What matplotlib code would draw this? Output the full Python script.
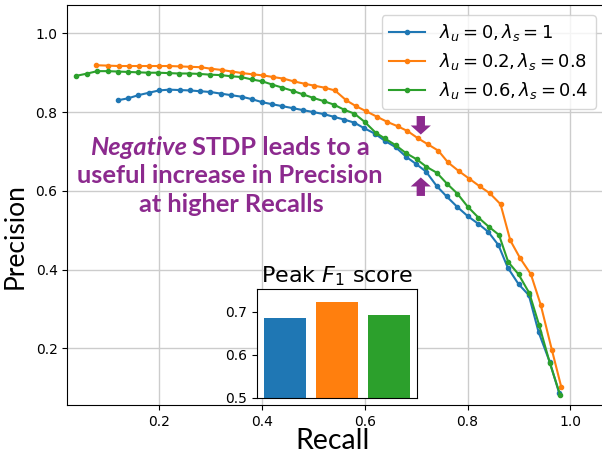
import matplotlib
matplotlib.use("Agg")
import matplotlib.pyplot as plt

# precision-recall curves
recall_a = [0.120, 0.140, 0.160, 0.180, 0.200, 0.220, 0.240, 0.260, 0.280, 0.300,
            0.320, 0.340, 0.361, 0.380, 0.401, 0.420, 0.440, 0.460, 0.480, 0.500,
            0.520, 0.540, 0.560, 0.580, 0.599, 0.620, 0.639, 0.660, 0.680, 0.700,
            0.719, 0.740, 0.759, 0.780, 0.800, 0.821, 0.840, 0.860, 0.878, 0.899,
            0.919, 0.938, 0.960, 0.978]
prec_a = [0.830, 0.835, 0.843, 0.849, 0.855, 0.857, 0.856, 0.855, 0.853, 0.851,
          0.847, 0.843, 0.839, 0.833, 0.825, 0.820, 0.815, 0.810, 0.805, 0.800,
          0.795, 0.788, 0.781, 0.773, 0.759, 0.745, 0.727, 0.711, 0.687, 0.668,
          0.649, 0.612, 0.586, 0.559, 0.536, 0.516, 0.496, 0.462, 0.405, 0.363,
          0.335, 0.241, 0.164, 0.086]

recall_b = [0.078, 0.101, 0.122, 0.141, 0.161, 0.181, 0.201, 0.220, 0.241, 0.261,
            0.281, 0.302, 0.322, 0.342, 0.362, 0.382, 0.403, 0.422, 0.442, 0.462,
            0.483, 0.502, 0.522, 0.542, 0.564, 0.583, 0.603, 0.624, 0.644, 0.664,
            0.683, 0.704, 0.723, 0.743, 0.762, 0.783, 0.803, 0.824, 0.843, 0.864,
            0.883, 0.902, 0.923, 0.942, 0.964, 0.982]
prec_b = [0.919, 0.918, 0.917, 0.917, 0.917, 0.917, 0.917, 0.917, 0.916, 0.915,
          0.914, 0.910, 0.907, 0.903, 0.899, 0.896, 0.893, 0.889, 0.885, 0.878,
          0.872, 0.867, 0.862, 0.855, 0.830, 0.815, 0.802, 0.788, 0.775, 0.764,
          0.752, 0.733, 0.718, 0.702, 0.672, 0.650, 0.631, 0.611, 0.594, 0.566,
          0.474, 0.429, 0.388, 0.311, 0.195, 0.102]

recall_c = [0.039, 0.061, 0.080, 0.100, 0.120, 0.139, 0.159, 0.179, 0.199, 0.219,
            0.239, 0.258, 0.278, 0.300, 0.320, 0.340, 0.360, 0.380, 0.401, 0.420,
            0.440, 0.460, 0.480, 0.500, 0.520, 0.540, 0.560, 0.580, 0.600, 0.621,
            0.639, 0.660, 0.680, 0.701, 0.720, 0.740, 0.760, 0.780, 0.800, 0.821,
            0.841, 0.861, 0.879, 0.899, 0.920, 0.939, 0.960, 0.980]
prec_c = [0.892, 0.898, 0.904, 0.904, 0.903, 0.902, 0.901, 0.900, 0.900, 0.899,
          0.898, 0.898, 0.897, 0.895, 0.894, 0.891, 0.889, 0.883, 0.878, 0.870,
          0.862, 0.854, 0.845, 0.836, 0.828, 0.819, 0.806, 0.796, 0.775, 0.748,
          0.733, 0.716, 0.696, 0.680, 0.661, 0.646, 0.618, 0.593, 0.560, 0.532,
          0.509, 0.488, 0.419, 0.388, 0.340, 0.259, 0.162, 0.081]

labels = [r"$\lambda_u = 0, \lambda_s = 1$",
          r"$\lambda_u = 0.2, \lambda_s = 0.8$",
          r"$\lambda_u = 0.6, \lambda_s = 0.4$"]
peak_f1 = [0.685, 0.722, 0.692]
colors = ["tab:blue", "tab:orange", "tab:green"]
purple = "#8c2a8e"

W, H = 602, 457
fig = plt.figure(figsize=(W / 100, H / 100), dpi=100)

# main axes (right edge runs just past the picture)
ax = fig.add_axes([67.3 / W, 1 - 405 / H, (630 - 67.3) / W, 400 / H])
ax.plot(recall_a, prec_a, marker=".", color=colors[0], label=labels[0])
ax.plot(recall_b, prec_b, marker=".", color=colors[1], label=labels[1])
ax.plot(recall_c, prec_c, marker=".", color=colors[2], label=labels[2])
ax.set_xlim(0.0218, (630 - 56.1) / 514.4)
ax.set_ylim(0.056, 1.072)
ax.set_xticks([0.2, 0.4, 0.6, 0.8, 1.0])
ax.set_yticks([0.2, 0.4, 0.6, 0.8, 1.0])
ax.spines["right"].set_visible(False)
ax.tick_params(labelsize=10)
ax.grid(True, color="#cccccc", linewidth=1)
ax.set_xlabel("Recall", family="Lato", fontsize=20.5)
ax.set_ylabel("Precision", family="Lato", fontsize=19)
ax.xaxis.set_label_coords((333 - 67.3) / (630 - 67.3), -0.057, transform=ax.transAxes)
ax.yaxis.set_label_coords(-0.07, (405 - 236) / 400, transform=ax.transAxes)
ax.xaxis.label.set_va("top")

ax.legend(loc="upper right", bbox_to_anchor=(596 / W, 1 - 15 / H),
          bbox_transform=fig.transFigure, borderaxespad=0, fontsize=13,
          labelspacing=0.45)

# annotation
px = lambda x, y: (x / W, 1 - y / H)
fs = 18.3
fig.text(*px(187, 155), "Negative", family="Lato", weight="bold", style="italic",
         fontsize=fs, color=purple, ha="right", va="baseline")
fig.text(*px(192, 155), "STDP leads to a", family="Lato", weight="bold",
         fontsize=fs, color=purple, ha="left", va="baseline")
fig.text(*px(230, 183), "useful increase in Precision", family="Lato", weight="bold",
         fontsize=fs, color=purple, ha="center", va="baseline")
fig.text(*px(231, 212), "at higher Recalls", family="Lato", weight="bold",
         fontsize=fs, color=purple, ha="center", va="baseline")

arrow_style = "simple,head_length=0.65,head_width=1.45,tail_width=0.6"
arrow_kw = dict(arrowstyle=arrow_style, color=purple, lw=0, mutation_scale=10,
                shrinkA=0, shrinkB=0)
ax.annotate("", xy=(0.709, 0.743), xytext=(0.709, 0.790), arrowprops=arrow_kw)
ax.annotate("", xy=(0.709, 0.634), xytext=(0.709, 0.587), arrowprops=arrow_kw)

# inset bar chart
ins = fig.add_axes([257 / W, 1 - 397.7 / H, 160 / W, 108.4 / H])
ins.bar(range(len(peak_f1)), peak_f1, color=colors, width=0.8)
ins.set_ylim(0.5, 0.752)
ins.set_yticks([0.5, 0.6, 0.7])
ins.set_xticks([])
ins.tick_params(labelsize=10)
ins.set_title(r"Peak $F_1$ score", fontsize=16, pad=5)

fig.savefig("out.png", dpi=100)
